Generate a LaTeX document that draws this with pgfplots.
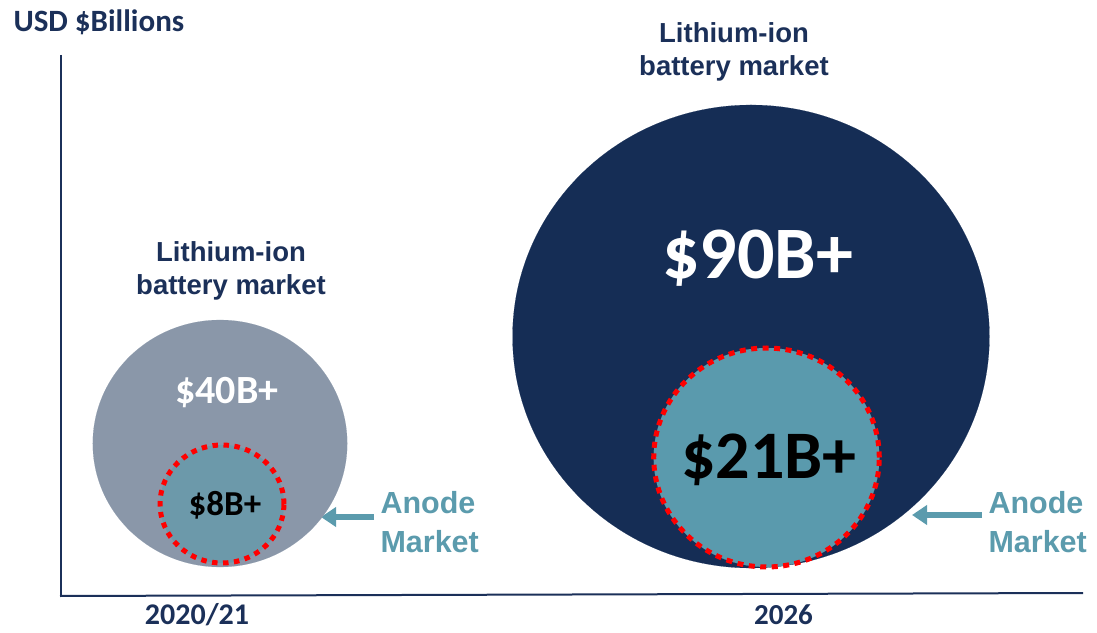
\documentclass[border=0pt]{standalone}
\usepackage{fontspec}
\setmainfont{Carlito}
\newfontfamily\arial{Liberation Sans}
\usepackage{pgfplots}
\pgfplotsset{compat=1.18}
\usetikzlibrary{arrows.meta}
\definecolor{navy}{HTML}{152D55}
\definecolor{navytext}{HTML}{1B3059}
\definecolor{bgray}{HTML}{8A97A9}
\definecolor{tealA}{HTML}{6C99AA}
\definecolor{tealB}{HTML}{5A9AAD}
\definecolor{tealT}{HTML}{5B9BAD}
\begin{document}
\begin{tikzpicture}
\begin{axis}[
  hide axis, scale only axis, set layers,
  x=1pt, y=1pt,
  xmin=0, xmax=1097, ymin=0, ymax=632,
  y dir=reverse,
  clip=false,
]
% frame corners (bounding box)
\addplot[draw=none, forget plot] coordinates {(0,0) (1097,632)};
% axis lines
\addplot[navytext, line width=2pt] coordinates {(61,55) (61,596)};
\addplot[navytext, line width=2pt] coordinates {(60,596) (1083,593)};
% big circles (Lithium-ion battery market)
\addplot[only marks, mark=*, mark size=123.5, mark options={draw=bgray, fill=bgray, line width=0.1pt, xscale=1.03}] coordinates {(220,443.5)};
\addplot[only marks, mark=*, mark size=231.5, mark options={draw=navy, fill=navy, line width=0.1pt, xscale=1.03}] coordinates {(751,336.5)};
% anode market circles (fill)
\addplot[only marks, mark=*, mark size=59, mark options={draw=tealA, fill=tealA, line width=0.1pt, xscale=1.05}] coordinates {(222,504)};
\addplot[only marks, mark=*, mark size=109.5, mark options={draw=tealB, fill=tealB, line width=0.1pt, xscale=1.03}] coordinates {(766.5,457.5)};
% anode market circles (red dotted border)
\addplot[only marks, mark=o, mark size=59, mark options={draw=red, line width=5pt, dash pattern=on 5.5pt off 5.5pt, xscale=1.05}] coordinates {(222,504)};
\addplot[only marks, mark=o, mark size=109.5, mark options={draw=red, line width=5pt, dash pattern=on 6pt off 5.5pt, xscale=1.03}] coordinates {(766.5,457.5)};
% arrows
\addplot[tealT, line width=5.5pt, -{Triangle[length=15pt,width=19pt]}] coordinates {(374,517) (321,517)};
\addplot[tealT, line width=5.5pt, -{Triangle[length=15pt,width=19pt]}] coordinates {(982,515) (912,515)};
% texts
\begin{pgfonlayer}{axis foreground}
\node[anchor=west, text=navytext, font=\fontsize{31}{36}\selectfont\bfseries] at (axis cs:10,22) {USD \$Billions};
\node[align=center, text=navytext, font=\arial\fontsize{27.5}{32.5}\selectfont\bfseries] at (axis cs:231,271) {Lithium-ion\\battery market};
\node[align=center, text=navytext, font=\arial\fontsize{27.5}{32.5}\selectfont\bfseries] at (axis cs:734,52) {Lithium-ion\\battery market};
\node[text=white, font=\fontsize{40}{48}\selectfont\bfseries] at (axis cs:227,393) {\$40B+};
\node[text=black, font=\fontsize{35}{42}\selectfont\bfseries] at (axis cs:225,505) {\$8B+};
\node[text=white, font=\fontsize{74}{86}\selectfont\bfseries] at (axis cs:757.5,258) {\$90B+};
\node[text=black, font=\fontsize{68}{80}\selectfont\bfseries] at (axis cs:769,460) {\$21B+};
\node[align=left, anchor=west, text=tealT, font=\arial\fontsize{30.5}{39}\selectfont\bfseries] at (axis cs:377,522) {Anode\\Market};
\node[align=left, anchor=west, text=tealT, font=\arial\fontsize{30.5}{39}\selectfont\bfseries] at (axis cs:985,522) {Anode\\Market};
\node[anchor=base, inner sep=0pt, text=navytext, font=\fontsize{30}{34}\selectfont\bfseries] at (axis cs:197,624) {2020/21};
\node[anchor=base, inner sep=0pt, text=navytext, font=\fontsize{29}{34}\selectfont\bfseries] at (axis cs:783.5,624) {2026};
\end{pgfonlayer}
\end{axis}
\end{tikzpicture}
\end{document}
